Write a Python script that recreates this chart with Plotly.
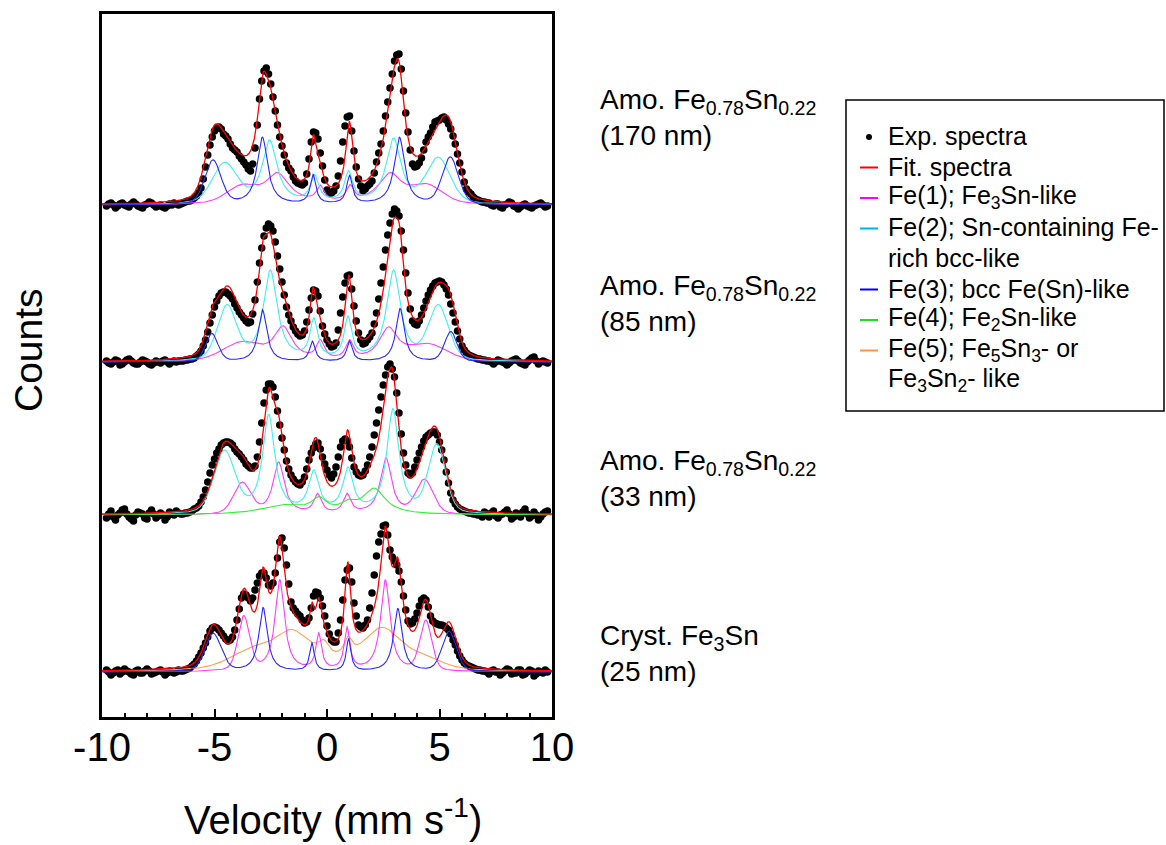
import numpy as np
import plotly.graph_objects as go

# ---------------- data ----------------
# Doppler velocity channels (mm/s), 0.1 mm/s apart
velocity = np.round(np.arange(-9.8, 9.85, 0.1), 1)

# Measured counts above each spectrum's own baseline (arbitrary units);
# each row holds ten consecutive channels, starting at -9.8 mm/s
counts_170nm = [
    -1, 1, 2, 0, -3, -1, 1, 2, 0, -1,
    -2, 1, 3, 1, -1, -2, -3, 0, 1, 3,
    2, 0, -2, -1, 0, -2, -3, -1, 1, 0,
    2, 1, 0, 1, 2, 3, 4, 4, 5, 7,
    9, 12, 17, 26, 38, 50, 60, 68, 74, 77,
    78, 76, 71, 69, 66, 61, 57, 55, 53, 49,
    46, 43, 40, 36, 34, 41, 57, 80, 106, 124,
    134, 137, 131, 121, 108, 94, 80, 68, 59, 50,
    42, 37, 34, 28, 24, 22, 21, 20, 22, 31,
    46, 63, 73, 72, 66, 52, 39, 25, 15, 12,
    12, 14, 19, 29, 44, 63, 79, 88, 89, 74,
    54, 38, 26, 19, 14, 16, 19, 21, 24, 32,
    43, 52, 61, 74, 89, 103, 117, 131, 144, 150,
    151, 136, 114, 92, 73, 55, 41, 38, 39, 42,
    47, 55, 63, 68, 72, 78, 83, 84, 85, 87,
    88, 85, 81, 76, 69, 61, 51, 42, 33, 23,
    16, 13, 11, 8, 6, 5, 4, 3, 3, 2,
    2, 0, -1, 1, 1, -2, -3, 0, 1, 3,
    2, -1, -2, -4, -2, 0, 1, -1, -2, -3,
    -1, 0, 1, 2, 0, -2, -1]
counts_85nm = [
    1, -1, -2, 0, 2, 1, -3, -2, 0, 2,
    3, 1, -1, -2, -2, 0, 2, 1, 0, -2,
    -3, -1, 1, 0, -1, 1, 2, 0, -2, 0,
    1, 0, 1, 1, 1, 2, 2, 3, 3, 4,
    6, 8, 11, 16, 22, 30, 39, 47, 55, 61,
    66, 69, 70, 70, 68, 66, 63, 58, 54, 50,
    47, 44, 41, 39, 40, 48, 62, 80, 99, 114,
    126, 134, 138, 136, 131, 120, 106, 93, 80, 67,
    55, 47, 41, 35, 31, 28, 26, 27, 31, 40,
    52, 64, 72, 71, 66, 51, 36, 28, 22, 18,
    15, 16, 19, 32, 49, 65, 79, 86, 87, 73,
    56, 41, 29, 22, 18, 19, 22, 25, 29, 38,
    49, 63, 79, 95, 112, 127, 139, 148, 153, 151,
    146, 131, 112, 89, 69, 53, 41, 38, 37, 41,
    47, 54, 61, 67, 72, 76, 79, 80, 81, 80,
    77, 73, 67, 58, 49, 40, 31, 23, 16, 12,
    9, 7, 6, 5, 4, 3, 3, 2, 2, 1,
    1, 0, -2, 0, 2, 1, 0, -1, -3, -1,
    1, 2, 3, 1, -1, -2, -3, 0, 2, 4,
    5, 1, -2, 0, 1, 0, -1]
counts_33nm = [
    -3, 1, 4, -2, -5, 0, 2, 5, 6, 1,
    -2, -4, -6, 0, 3, 2, 1, -3, -4, 2,
    5, 1, -3, -1, 2, 0, -5, -2, 3, 1,
    0, 4, 2, 1, 1, 2, 2, 3, 4, 6,
    7, 9, 13, 18, 25, 33, 42, 50, 56, 62,
    66, 70, 72, 73, 73, 72, 70, 66, 63, 61,
    58, 55, 51, 49, 47, 47, 49, 58, 73, 92,
    112, 125, 131, 131, 128, 118, 104, 90, 77, 65,
    54, 46, 40, 36, 33, 31, 30, 33, 38, 46,
    55, 62, 67, 71, 72, 66, 58, 51, 45, 40,
    37, 41, 48, 58, 68, 74, 76, 74, 68, 57,
    48, 43, 40, 39, 40, 44, 50, 58, 68, 80,
    92, 105, 118, 130, 140, 148, 151, 146, 138, 122,
    102, 81, 62, 50, 42, 40, 42, 48, 55, 62,
    68, 74, 78, 80, 82, 83, 83, 80, 73, 65,
    55, 43, 32, 22, 15, 11, 8, 6, 5, 4,
    3, 2, 2, 1, 1, 0, 0, -2, 3, 1,
    -2, 2, 4, -1, -3, 0, 1, 3, 5, 1,
    -4, -2, 2, 0, -2, 3, 6, 1, -3, -1,
    3, 0, -5, -2, 1, 3, 4]
counts_25nm = [
    2, 0, -3, -1, 1, 2, -2, 0, 3, 1,
    0, -2, -3, 1, 2, -1, -1, 1, 3, 1,
    -2, -1, 0, 1, 2, 0, -3, -1, 1, 0,
    -1, 0, 2, 1, 1, 2, 3, 4, 6, 8,
    11, 15, 19, 24, 29, 35, 41, 44, 45, 44,
    42, 39, 36, 33, 31, 32, 35, 42, 52, 63,
    74, 78, 77, 74, 71, 74, 82, 89, 96, 99,
    99, 94, 87, 86, 89, 99, 114, 130, 134, 124,
    107, 88, 70, 64, 61, 58, 56, 52, 49, 50,
    54, 64, 76, 80, 79, 74, 66, 56, 46, 38,
    32, 30, 30, 39, 52, 72, 92, 102, 104, 90,
    69, 56, 47, 45, 44, 47, 52, 64, 79, 97,
    116, 130, 138, 146, 147, 137, 122, 115, 111, 107,
    101, 90, 76, 62, 51, 48, 49, 53, 59, 66,
    72, 74, 72, 65, 56, 51, 49, 48, 47, 47,
    46, 44, 42, 38, 32, 27, 21, 16, 12, 9,
    7, 6, 5, 4, 3, 2, 2, 1, 1, 0,
    -2, 1, 2, 0, 0, -3, -1, 1, 3, 2,
    -2, -1, -1, 2, 2, -3, -2, 0, 2, 1,
    -4, -2, 1, 0, -1, 2, 0]

for _c in (counts_170nm, counts_85nm, counts_33nm, counts_25nm):
    assert len(_c) == len(velocity), (len(_c), len(velocity))

# Fitted sub-spectra, one entry per absorption line:
# (position mm/s, amplitude, FWHM mm/s, Lorentzian fraction of the pseudo-Voigt profile)
fe1_170nm = [(-3.8, 16, 1.6, .3), (-2.2, 30, 1.3, 1), (-0.3, 15, 0.4, 1),
             (1.02, 15, 0.4, 1), (2.8, 30, 1.3, 1), (4.45, 17, 1.6, .3)]
fe2_170nm = [(-4.55, 40, 1.3, .3), (-2.55, 63, 0.8, 1), (-0.55, 26, 0.45, 1),
             (0.96, 30, 0.45, 1), (2.96, 65, 0.8, 1), (4.95, 45, 1.25, .3)]
fe3_170nm = [(-5.07, 44, 0.85, .3), (-2.87, 67, 0.55, 1), (-0.62, 29, 0.3, 1),
             (1.0, 28, 0.3, 1), (3.22, 67, 0.55, 1), (5.48, 47, 0.85, .3)]

fe1_85nm = [(-3.8, 18, 2.0, .3), (-1.95, 33, 1.0, 1), (-0.3, 18, 0.4, 1),
            (1.0, 18, 0.4, 1), (2.73, 32, 1.0, 1), (4.5, 16, 2.0, .3)]
fe2_85nm = [(-4.45, 54, 1.0, .3), (-2.52, 90, 0.75, 1), (-0.59, 39, 0.4, 1),
            (0.93, 41, 0.4, 1), (2.96, 90, 0.75, 1), (4.95, 54, 1.05, .3)]
fe3_85nm = [(-5.12, 28, 0.65, .3), (-2.87, 52, 0.45, 1), (-0.65, 20, 0.3, 1),
            (1.0, 20, 0.3, 1), (3.25, 53, 0.45, 1), (5.5, 30, 0.65, .3)]

fe1_33nm = [(-3.77, 31, 0.9, .3), (-2.15, 52, 0.6, 1), (-0.42, 19, 0.4, 1),
            (0.89, 19, 0.4, 1), (2.62, 56, 0.6, 1), (4.33, 34, 0.9, .3)]
fe2_33nm = [(-4.56, 62, 1.1, .3), (-2.59, 98, 0.65, 1), (-0.59, 40, 0.55, 1),
            (0.93, 43, 0.55, 1), (2.93, 104, 0.65, 1), (4.88, 68, 0.9, .3)]
fe4_33nm = [(-1.9, 9, 2.4, 1), (-0.35, 13, 0.8, 1), (0.95, 8, 0.8, 1), (2.1, 25, 1.2, 1)]

fe1_25nm = [(-3.7, 54, 0.62, .3), (-2.1, 91, 0.5, 1), (-0.37, 36, 0.3, 1),
            (0.89, 42, 0.3, 1), (2.59, 91, 0.5, 1), (4.39, 50, 0.62, .3)]
fe3_25nm = [(-5.06, 38, 0.85, .3), (-2.84, 64, 0.45, 1), (-0.67, 28, 0.25, 1),
            (0.96, 32, 0.25, 1), (3.15, 63, 0.45, 1), (5.43, 40, 0.75, .3)]
fe5_25nm = [(-3.4, 14, 2.2, .3), (-1.55, 38, 2.2, 1), (-0.15, 14, 0.6, 1),
            (0.93, 18, 0.45, 1), (2.45, 40, 2.0, .5), (4.3, 10, 2.0, .3)]

# Text
sample_names = ["Amo. Fe<sub>0.78</sub>Sn<sub>0.22</sub>", "Amo. Fe<sub>0.78</sub>Sn<sub>0.22</sub>",
                "Amo. Fe<sub>0.78</sub>Sn<sub>0.22</sub>", "Cryst. Fe<sub>3</sub>Sn"]
sample_thickness = ["(170 nm)", "(85 nm)", "(33 nm)", "(25 nm)"]
tick_values = [-10, -5, 0, 5, 10]
tick_text = ["-10", "-5", "0", "5", "10"]
legend_rows = ["Exp. spectra", "Fit. spectra", "Fe(1); Fe<sub>3</sub>Sn-like",
               "Fe(2); Sn-containing Fe-", "rich bcc-like", "Fe(3); bcc Fe(Sn)-like",
               "Fe(4); Fe<sub>2</sub>Sn-like", "Fe(5); Fe<sub>5</sub>Sn<sub>3</sub>- or",
               "Fe<sub>3</sub>Sn<sub>2</sub>- like"]

# ---------------- styling ----------------
FONT = "Liberation Sans, Arial, sans-serif"
C_FIT = "#ff0000"
C_FE1 = "#ff3cff"
C_FE2 = "#40eeee"
C_FE3 = "#2828ff"
C_FE4 = "#33ee33"
C_FE5 = "#ffa050"

# vertical offset of each spectrum (stacked, top to bottom)
offsets = [467, 310, 157, 0]

spectra = [
    (counts_170nm, [(fe1_170nm, C_FE1), (fe2_170nm, C_FE2), (fe3_170nm, C_FE3)]),
    (counts_85nm, [(fe1_85nm, C_FE1), (fe2_85nm, C_FE2), (fe3_85nm, C_FE3)]),
    (counts_33nm, [(fe1_33nm, C_FE1), (fe2_33nm, C_FE2), (fe4_33nm, C_FE4)]),
    (counts_25nm, [(fe5_25nm, C_FE5), (fe1_25nm, C_FE1), (fe3_25nm, C_FE3)]),
]

v_fine = np.linspace(-10, 10, 2001)


def line_sum(v, lines):
    """Sum of pseudo-Voigt absorption lines."""
    out = np.zeros_like(v)
    for pos, amp, fwhm, eta in lines:
        u = (v - pos) / fwhm
        lor = 1.0 / (1.0 + 4.0 * u ** 2)
        gau = np.exp(-4.0 * np.log(2.0) * u ** 2)
        out += amp * (eta * lor + (1.0 - eta) * gau)
    return out


fig = go.Figure()
for (counts, comps), off in zip(spectra, offsets):
    fig.add_trace(go.Scatter(x=velocity, y=np.array(counts) + off, mode="markers",
                             marker=dict(color="black", size=7.5, line=dict(width=0)),
                             showlegend=False, hoverinfo="skip"))
    total = np.zeros_like(v_fine)
    for lines, color in comps:
        curve = line_sum(v_fine, lines)
        total += curve
        fig.add_trace(go.Scatter(x=v_fine, y=curve + off, mode="lines",
                                 line=dict(color=color, width=1.1),
                                 showlegend=False, hoverinfo="skip"))
    fig.add_trace(go.Scatter(x=v_fine, y=total + off, mode="lines",
                             line=dict(color=C_FIT, width=1.3),
                             showlegend=False, hoverinfo="skip"))

# ---------------- layout ----------------
L, R, T, B = 102, 552, 14, 717


def px(x):
    return (x - L) / (R - L)


def py(y):
    return (B - y) / (B - T)


annotations = []
shapes = []

# axis titles
annotations.append(dict(text="Velocity (mm s<sup>-1</sup>)", x=px(333), y=py(817), xref="paper", yref="paper",
                        showarrow=False, xanchor="center", yanchor="middle", font=dict(size=40)))
annotations.append(dict(text="Counts", x=px(28), y=py(350), xref="paper", yref="paper", textangle=-90,
                        showarrow=False, xanchor="center", yanchor="middle", font=dict(size=39)))

# sample labels
label_y = [(102, 135), (288, 321), (462, 496), (637, 671)]
for name, thick, (y1, y2) in zip(sample_names, sample_thickness, label_y):
    annotations.append(dict(text=name, x=px(598), y=py(y1), xref="paper", yref="paper", showarrow=False,
                            xanchor="left", yanchor="middle", font=dict(size=28)))
    annotations.append(dict(text=thick, x=px(598), y=py(y2), xref="paper", yref="paper", showarrow=False,
                            xanchor="left", yanchor="middle", font=dict(size=28)))

# legend box
shapes.append(dict(type="rect", xref="paper", yref="paper", x0=px(846), x1=px(1164), y0=py(100), y1=py(411),
                   line=dict(color="black", width=1.5), fillcolor="white", layer="below"))
row_y = [136, 166.5, 197, 227.5, 258, 288.5, 319, 349.5, 380]
for text, yy in zip(legend_rows, row_y):
    annotations.append(dict(text=text, x=px(886), y=py(yy), xref="paper", yref="paper", showarrow=False,
                            xanchor="left", yanchor="middle", font=dict(size=25)))
legend_swatches = [(1, C_FIT), (2, "#ff00ff"), (3, "#00b0f0"), (5, "#0000ff"), (6, "#22dd22"), (7, "#f79646")]
for row, color in legend_swatches:
    yy = py(row_y[row] + 1)
    shapes.append(dict(type="line", xref="paper", yref="paper", x0=px(860), x1=px(878), y0=yy, y1=yy,
                       line=dict(color=color, width=2)))
shapes.append(dict(type="circle", xref="paper", yref="paper", xsizemode="pixel", ysizemode="pixel",
                   xanchor=px(869), yanchor=py(row_y[0] + 1), x0=-3, x1=3, y0=-3, y1=3,
                   fillcolor="black", line=dict(color="black", width=0)))

fig.update_layout(
    width=1166, height=845,
    margin=dict(l=L, r=1166 - R, t=T, b=845 - B),
    paper_bgcolor="white", plot_bgcolor="white",
    font=dict(family=FONT, color="black"),
    showlegend=False,
    annotations=annotations,
    shapes=shapes,
)
fig.update_xaxes(range=[-10, 10], tickmode="array", tickvals=tick_values, ticktext=tick_text,
                 ticks="inside", ticklen=8, tickwidth=2, tickcolor="black",
                 minor=dict(ticks="inside", ticklen=4, tickwidth=2, tickcolor="black",
                            tickmode="linear", tick0=0, dtick=1),
                 ticklabelstandoff=-7,
                 showline=True, linewidth=3, linecolor="black", mirror=True,
                 showgrid=False, zeroline=False, tickfont=dict(size=40))
fig.update_yaxes(range=[-45, 658], showticklabels=False, ticks="", showline=True, linewidth=3,
                 linecolor="black", mirror=True, showgrid=False, zeroline=False)

fig.write_html("out.html")
